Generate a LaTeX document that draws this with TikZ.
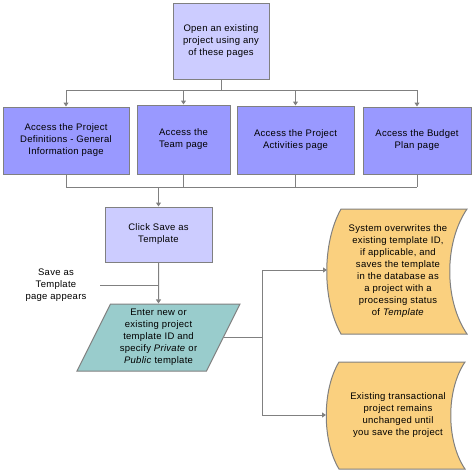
\documentclass[tikz,border=0pt]{standalone}
\usepackage{fontspec}
\setmainfont[LetterSpace=3]{Liberation Sans}
\usetikzlibrary{arrows.meta,shapes.geometric}
\definecolor{lav}{HTML}{CCCCFF}
\definecolor{blu}{HTML}{9999FF}
\definecolor{teal1}{HTML}{99CCCC}
\definecolor{org}{HTML}{FAD07F}
\definecolor{ln}{HTML}{808080}
\begin{document}
\begin{tikzpicture}[x=1pt,y=-1pt,
  every node/.style={font=\fontsize{9.5}{12}\selectfont, align=center, inner sep=0pt},
  box/.style={draw=ln, line width=1pt, rectangle},
  conn/.style={draw=ln, line width=1pt},
  arr/.style={conn, -{Triangle[length=4pt,width=5pt]}}
]
\useasboundingbox (0,0) rectangle (472,471);
% boxes
\node[box, fill=lav, minimum width=96pt, minimum height=76pt] (top) at (221,41) {Open an existing\\project using any\\of these pages};
\node[box, fill=blu, minimum width=126pt, minimum height=67pt] (b1) at (66,140.5) {Access the Project\\Definitions - General\\Information page};
\node[box, fill=blu, minimum width=93pt, minimum height=69pt] (b2) at (183.5,139.5) {Access the\\Team page};
\node[box, fill=blu, minimum width=117pt, minimum height=68pt] (b3) at (295.5,140) {Access the Project\\Activities page};
\node[box, fill=blu, minimum width=108pt, minimum height=67pt] (b4) at (417,140.5) {Access the Budget\\Plan page};
\node[box, fill=lav, minimum width=107pt, minimum height=55pt] (click) at (158.5,234.5) {Click Save as\\Template};
\node (lbl) at (56,285) {Save as\\Template\\page appears};
\node[draw=ln, line width=1pt, fill=teal1, trapezium, trapezium left angle=64.5, trapezium right angle=115.5, trapezium stretches=true, minimum width=163pt, minimum height=67pt] (para) at (158.5,337.5) {Enter new or\\existing project\\template ID and\\specify \textit{Private} or\\\textit{Public} template};
% wavy result shapes
\path[conn, fill=org] (341,209) -- (467,209) .. controls (444,243) and (444,300) .. (467,334) -- (341,334) .. controls (322,300) and (322,243) .. (341,209) -- cycle;
\node (sys) at (398,271) {System overwrites the\\existing template ID,\\if applicable, and\\saves the template\\in the database as\\a project with a\\processing status\\of \textit{Template}};
\path[conn, fill=org] (339,362) -- (465,362) .. controls (446,390) and (446,441) .. (465,469) -- (339,469) .. controls (322,441) and (322,390) .. (339,362) -- cycle;
\node (ex) at (398,415) {Existing transactional\\project remains\\unchanged until\\you save the project};
% coordinates
\coordinate (busT) at (0,90);
\coordinate (busB) at (0,187);
\coordinate (lblE) at (100,285);
\coordinate (jr) at (262,0);
\coordinate (sysW) at (327,270);
\coordinate (exW) at (326,415);
% connectors
\draw[conn] (top.south) -- (top.south |- busT);
\draw[conn] (b1.north |- busT) -- (b4.north |- busT);
\foreach \b in {b1,b2,b3,b4} {
  \draw[arr] (\b.north |- busT) -- (\b.north);
  \draw[conn] (\b.south) -- (\b.south |- busB);
}
\draw[conn] (b1.south |- busB) -- (b4.south |- busB);
\draw[arr] (click.north |- busB) -- (click.north);
\draw[arr] (click.south) -- (para.north);
\draw[conn] (lblE) -- (lblE -| click.south);
\draw[conn] (para.east) -- (para.east -| jr);
\draw[arr] (para.east -| jr) |- (sysW);
\draw[arr] (para.east -| jr) |- (exW);
\end{tikzpicture}
\end{document}
